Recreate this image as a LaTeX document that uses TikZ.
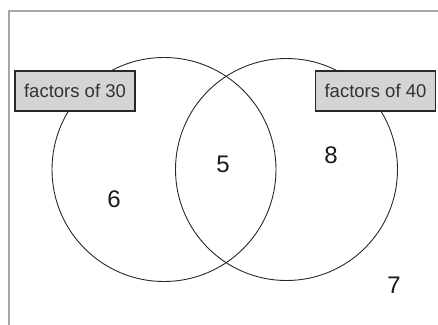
\documentclass[tikz,border=0pt]{standalone}
\usepackage{fontspec}
\setmainfont{Liberation Sans}
\definecolor{framegray}{RGB}{165,165,165}
\definecolor{boxgray}{RGB}{212,212,212}
\definecolor{linegray}{RGB}{40,40,40}
\begin{document}
\begin{tikzpicture}[x=1pt,y=-1pt,
  setcircle/.style={draw=linegray,line width=0.9pt},
  setlabel/.style={draw=linegray,fill=boxgray,line width=1.1pt,minimum width=120pt,minimum height=40pt,inner sep=0pt,font=\fontsize{18.5}{20}\selectfont,text=black!80},
  member/.style={font=\fontsize{24}{26}\selectfont,text=black!90}]
\useasboundingbox (0,0) rectangle (438,324);
\draw[framegray,line width=1.8pt] (9,330) -- (9,11) -- (445,11);
\node[setcircle,circle,minimum size=224pt,inner sep=0pt] (A) at (164,169.5) {};
\node[setcircle,circle,minimum size=222pt,inner sep=0pt] (B) at (286.5,169.5) {};
\node[setlabel] (LA) at (75,91) {factors of 30};
\node[setlabel] (LB) at (375.5,91) {factors of 40};
\node[member] (n6) at (114,199) {6};
\node[member] (n5) at (223,164) {5};
\node[member] (n8) at (331,155) {8};
\node[member] (n7) at (394,285) {7};
\end{tikzpicture}
\end{document}
